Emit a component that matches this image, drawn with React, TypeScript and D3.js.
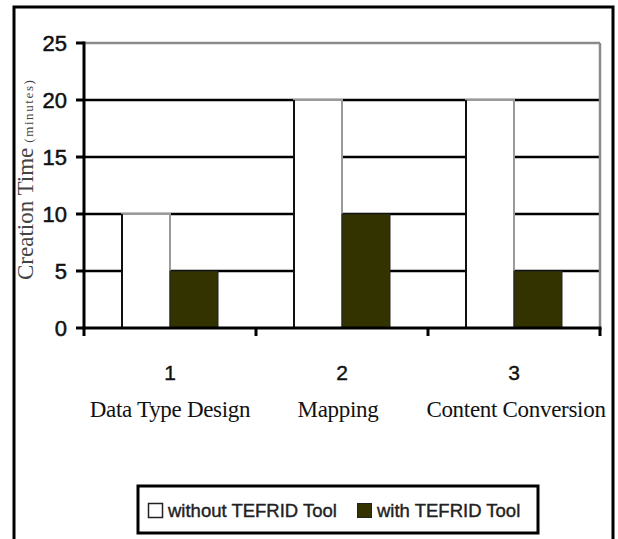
import React from "react";
import * as d3 from "d3";

const categories = ["1", "2", "3"];
const categoryNames = ["Data Type Design", "Mapping", "Content Conversion"];
const seriesNames = ["without TEFRID Tool", "with TEFRID Tool"];
const withoutTool = [10, 20, 20];
const withTool = [5, 10, 5];
const yTicks = [0, 5, 10, 15, 20, 25];

const W = 618;
const H = 539;
const plot = { left: 84, right: 600, top: 43, bottom: 328 };
const DARK = "#333300";
const SANS = "'Liberation Sans', Arial, sans-serif";
const SERIF = "'Liberation Serif', 'Times New Roman', serif";

export default function App() {
  const x = d3
    .scaleBand<string>()
    .domain(categories)
    .range([plot.left, plot.right])
    .paddingInner(0.442)
    .paddingOuter(0.221);
  const sub = d3
    .scaleBand<string>()
    .domain(seriesNames)
    .range([0, x.bandwidth()]);
  const y = d3.scaleLinear().domain([0, 25]).range([plot.bottom, plot.top]);
  const step = x.step();
  const catStart = (i: number) => plot.left + i * step;

  const series = [
    { name: seriesNames[0], values: withoutTool },
    { name: seriesNames[1], values: withTool },
  ];

  return (
    <svg
      width={W}
      height={H}
      style={{ position: "absolute", left: 0, top: 0, display: "block", background: "#fff" }}
    >
      {/* outer frame */}
      <rect x={14} y={7} width={599} height={560} fill="#fff" stroke="#000" strokeWidth={3} />

      {/* gridlines */}
      {yTicks
        .filter((t) => t > 0 && t < 25)
        .map((t) => (
          <line key={"g" + t} x1={plot.left} x2={plot.right} y1={y(t)} y2={y(t)} stroke="#000" strokeWidth={2.5} />
        ))}
      {/* plot top and right border (gray) */}
      <line x1={plot.left} x2={plot.right} y1={y(25)} y2={y(25)} stroke="#8a8a8a" strokeWidth={2.5} />
      <line x1={plot.right} x2={plot.right} y1={y(25)} y2={plot.bottom} stroke="#8a8a8a" strokeWidth={2.5} />

      {/* bars */}
      {categories.map((c, i) => {
        const x0 = x(c) as number;
        return (
          <g key={c}>
            {series.map((s, si) => {
              const bx = x0 + (sub(s.name) as number);
              const bw = sub.bandwidth();
              const by = y(s.values[i]);
              const bh = plot.bottom - by;
              if (si === 0) {
                return (
                  <g key={s.name}>
                    <rect x={bx} y={by} width={bw} height={bh} fill="#fff" stroke="#9a9a9a" strokeWidth={2} />
                    <line x1={bx} x2={bx} y1={by} y2={plot.bottom} stroke="#111" strokeWidth={2} />
                  </g>
                );
              }
              return (
                <rect key={s.name} x={bx} y={by} width={bw} height={bh} fill={DARK} stroke="#222" strokeWidth={1} />
              );
            })}
          </g>
        );
      })}

      {/* y axis */}
      <line x1={plot.left} x2={plot.left} y1={y(25) - 1.5} y2={plot.bottom + 8} stroke="#000" strokeWidth={3} />
      {yTicks.map((t) => (
        <g key={"yt" + t}>
          <line x1={plot.left - 8} x2={plot.left} y1={y(t)} y2={y(t)} stroke="#000" strokeWidth={3} />
          <text
            x={67}
            y={y(t)}
            dy="0.36em"
            textAnchor="end"
            fontFamily={SANS}
            fontSize={22}
            fill="#111"
            stroke="#111"
            strokeWidth={0.5}
          >
            {t}
          </text>
        </g>
      ))}

      {/* x axis */}
      <line x1={plot.left} x2={plot.right + 1.5} y1={plot.bottom} y2={plot.bottom} stroke="#000" strokeWidth={3} />
      {categories.map((c, i) => {
        const bx = catStart(i + 1);
        return <line key={"xt" + c} x1={bx} x2={bx} y1={plot.bottom} y2={plot.bottom + 8} stroke="#000" strokeWidth={3} />;
      })}
      {categories.map((c, i) => {
        const cx = (x(c) as number) + x.bandwidth() / 2;
        return (
          <g key={"xl" + c}>
            <text
              x={cx}
              y={380}
              textAnchor="middle"
              fontFamily={SANS}
              fontSize={21}
              fill="#111"
              stroke="#111"
              strokeWidth={0.4}
            >
              {c}
            </text>
            <text
              x={cx + (i === 1 ? -4 : i === 2 ? 2 : 0)}
              y={417}
              textAnchor="middle"
              fontFamily={SERIF}
              fontSize={23}
              fill="#111"
              letterSpacing={-0.3}
            >
              {categoryNames[i]}
            </text>
          </g>
        );
      })}

      {/* y axis title */}
      <text transform="translate(33,280) rotate(-90)" fontFamily={SERIF} fontSize={23} fill="#444">
        Creation Time
        <tspan fontSize={13} letterSpacing={1.6} dx={5}>
          (minutes)
        </tspan>
      </text>

      {/* legend */}
      <rect x={138} y={486} width={400} height={47} fill="#fff" stroke="#000" strokeWidth={3} />
      <rect x={148.5} y={503.5} width={14} height={14} fill="#fff" stroke="#222" strokeWidth={1.5} />
      <text x={168} y={517} fontFamily={SANS} fontSize={18.5} fill="#222" stroke="#222" strokeWidth={0.4}>
        {seriesNames[0]}
      </text>
      <rect x={357.5} y={503.5} width={14} height={14} fill={DARK} stroke="#222" strokeWidth={1} />
      <text x={377} y={517} fontFamily={SANS} fontSize={18.5} fill="#222" stroke="#222" strokeWidth={0.4}>
        {seriesNames[1]}
      </text>
    </svg>
  );
}
